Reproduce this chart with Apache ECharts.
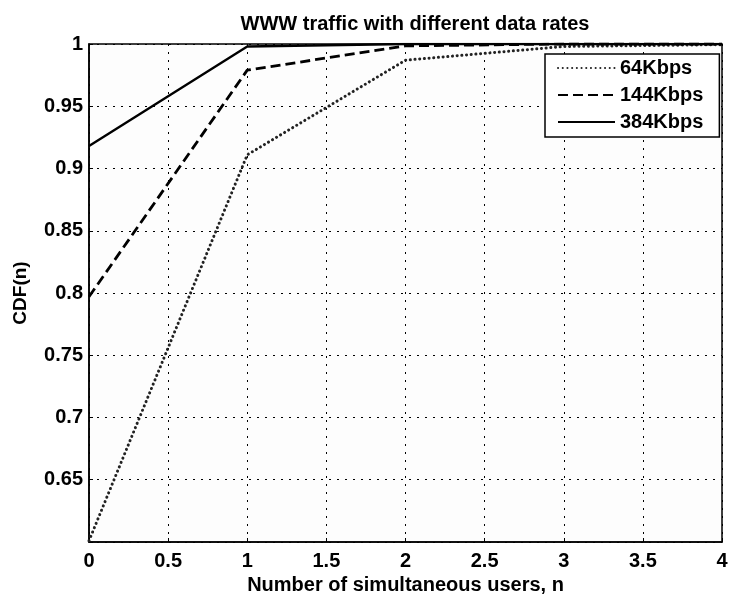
<!DOCTYPE html>
<html>
<head>
<meta charset="utf-8">
<script src="https://cdn.jsdelivr.net/npm/echarts@6/dist/echarts.min.js"></script>
<style>
  html, body { margin: 0; padding: 0; background: #fff; }
  #main { width: 734px; height: 603px; }
</style>
</head>
<body>
<div id="main"></div>
<script>
// number of simultaneous users
const users = [0, 1, 2, 3, 4];
// CDF values
const cdf64 = [0.601, 0.911, 0.987, 0.998, 0.9995];
const cdf144 = [0.797, 0.979, 0.9985, 1.0, 1.0];
const cdf384 = [0.918, 0.998, 1.0, 1.0, 1.0];
const seriesNames = ['64Kbps', '144Kbps', '384Kbps'];

const font = 'Liberation Sans, Arial, sans-serif';
const pairs = (ys) => users.map((x, i) => [x, ys[i]]);

const chart = echarts.init(document.getElementById('main'));

const gridLine = {
    show: true,
    lineStyle: { color: '#000', width: 1, type: [2, 6] }
};
const txt = (size) => ({ fontFamily: font, fontWeight: 'bold', fontSize: size, color: '#000' });

chart.setOption({
    backgroundColor: '#fff',
    animation: false,
    title: {
        text: 'WWW traffic with different data rates',
        left: 410,
        textAlign: 'center',
        top: 9,
        textStyle: txt(20)
    },
    legend: {
        orient: 'vertical',
        left: 545,
        top: 54,
        padding: [4, 16, 5, 12],
        itemGap: 7,
        itemWidth: 57,
        itemHeight: 20,
        backgroundColor: '#fff',
        borderColor: '#000',
        borderWidth: 1.5,
        borderRadius: 0,
        data: seriesNames,
        itemStyle: { opacity: 0 },
        textStyle: txt(20)
    },
    grid: {
        left: 89,
        right: 12,
        top: 44,
        bottom: 61,
        show: true,
        borderColor: '#000',
        borderWidth: 1.5,
        backgroundColor: '#fdfdfd'
    },
    xAxis: {
        type: 'value',
        min: 0,
        max: 4,
        interval: 0.5,
        name: 'Number of simultaneous users, n',
        nameLocation: 'middle',
        nameGap: 32,
        nameTextStyle: txt(20),
        axisLine: { show: true, lineStyle: { color: '#000', width: 1.5 } },
        axisTick: { show: true, inside: true, length: 4, lineStyle: { color: '#000' } },
        axisLabel: Object.assign(txt(20), { margin: 9 }),
        splitLine: gridLine
    },
    yAxis: {
        type: 'value',
        min: 0.6,
        max: 1,
        interval: 0.05,
        name: 'CDF(n)',
        nameLocation: 'middle',
        nameGap: 59,
        nameTextStyle: txt(19),
        axisLine: { show: true, lineStyle: { color: '#000', width: 1.5 } },
        axisTick: { show: true, inside: true, length: 4, lineStyle: { color: '#000' } },
        axisLabel: Object.assign(txt(20), {
            margin: 6,
            formatter: (v) => (Math.abs(v - 0.6) < 1e-9 ? '' : String(+v.toFixed(2)))
        }),
        splitLine: gridLine
    },
    series: [
        {
            name: seriesNames[0],
            type: 'line',
            data: pairs(cdf64),
            symbol: 'none',
            color: '#222',
            lineStyle: { color: '#222', width: 3, type: [0.1, 4.6], cap: 'round' }
        },
        {
            name: seriesNames[1],
            type: 'line',
            data: pairs(cdf144),
            symbol: 'none',
            color: '#000',
            lineStyle: { color: '#000', width: 2.8, type: [10, 5] }
        },
        {
            name: seriesNames[2],
            type: 'line',
            data: pairs(cdf384),
            symbol: 'none',
            color: '#000',
            lineStyle: { color: '#000', width: 2.4, type: 'solid' }
        }
    ]
});
</script>
</body>
</html>
